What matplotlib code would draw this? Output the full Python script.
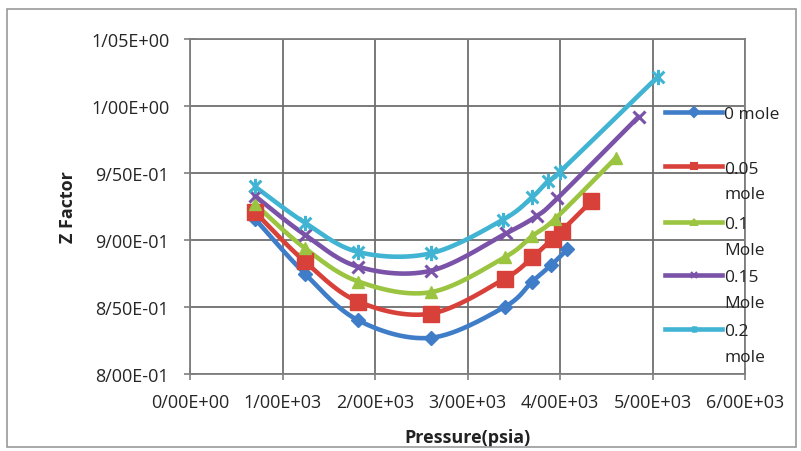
import numpy as np
import matplotlib
matplotlib.use("Agg")
import matplotlib.pyplot as plt
from matplotlib.path import Path
from matplotlib.lines import Line2D
from matplotlib.patches import Rectangle

# ---- data ----
series_names = ["0 mole", "0.05\nmole", "0.1\nMole", "0.15\nMole", "0.2\nmole"]
p0 = [700, 1240, 1820, 2600, 3400, 3700, 3900, 4080]
z0 = [0.916, 0.875, 0.840, 0.827, 0.850, 0.869, 0.881, 0.893]
p1 = [700, 1240, 1820, 2600, 3400, 3700, 3920, 4020, 4340]
z1 = [0.921, 0.884, 0.854, 0.845, 0.871, 0.887, 0.901, 0.907, 0.929]
p2 = [700, 1240, 1820, 2600, 3400, 3700, 3950, 4600]
z2 = [0.927, 0.894, 0.869, 0.861, 0.887, 0.903, 0.916, 0.961]
p3 = [700, 1240, 1820, 2600, 3420, 3750, 3970, 4850]
z3 = [0.933, 0.904, 0.880, 0.877, 0.905, 0.918, 0.931, 0.992]
p4 = [700, 1240, 1820, 2600, 3380, 3700, 3870, 4000, 5060]
z4 = [0.940, 0.913, 0.891, 0.890, 0.915, 0.932, 0.944, 0.951, 1.022]
pressures = [p0, p1, p2, p3, p4]
zfactors = [z0, z1, z2, z3, z4]
x_ticks = [0, 1000, 2000, 3000, 4000, 5000, 6000]
y_ticks = [0.80, 0.85, 0.90, 0.95, 1.00, 1.05]

colors = ["#3F7DC8", "#D8403A", "#9BC440", "#7A52A8", "#40B4D2"]

# star marker (x plus vertical bar)
star = Path([(-1, -1), (1, 1), (-1, 1), (1, -1), (0, -1.3), (0, 1.3)],
            [Path.MOVETO, Path.LINETO, Path.MOVETO, Path.LINETO, Path.MOVETO, Path.LINETO])
markers = ["D", "s", "^", "x", star]
msizes = [7, 11, 9, 9, 11]

plt.rcParams['font.family'] = ['Open Sans', 'DejaVu Sans']

fig = plt.figure(figsize=(8.01, 4.52), dpi=100)
fig.patches.append(Rectangle((7 / 801, 4 / 452), 789 / 801, 438 / 452, transform=fig.transFigure,
                             fill=False, edgecolor="#9a9a9a", linewidth=1.2))
ax = fig.add_axes([190 / 801, 1 - 375 / 452, 555 / 801, 335 / 452])
ax.set_xlim(0, 6000)
ax.set_ylim(0.80, 1.05)


def fmt(v):
    return f"{v:.2E}".replace(".", "/")


ax.set_xticks(x_ticks)
ax.set_yticks(y_ticks)
ax.set_xticklabels([fmt(v) for v in x_ticks], fontsize=13, color="#262626")
ax.set_yticklabels([fmt(v) for v in y_ticks], fontsize=13, color="#262626")
ax.tick_params(axis="both", direction="inout", length=8, width=1.2, color="#7f7f7f")
ax.tick_params(axis="x", pad=10)
ax.tick_params(axis="y", pad=11)
ax.grid(True, color="#6e6e6e", linewidth=1.3)
ax.set_axisbelow(True)
for s in ax.spines.values():
    s.set_color("#7f7f7f")
    s.set_linewidth(1.3)

fig.canvas.draw()


def smooth(xs, ys, n=30):
    pts = ax.transData.transform(np.column_stack([xs, ys]))
    P = np.vstack([pts[0], pts, pts[-1]])
    out = []
    for i in range(1, len(P) - 2):
        a, b = P[i], P[i + 1]
        c1 = a + (P[i + 1] - P[i - 1]) / 6
        c2 = b - (P[i + 2] - P[i]) / 6
        t = np.linspace(0, 1, n)[:, None]
        seg = (1 - t) ** 3 * a + 3 * (1 - t) ** 2 * t * c1 + 3 * (1 - t) * t ** 2 * c2 + t ** 3 * b
        out.append(seg if i == 1 else seg[1:])
    out = np.vstack(out)
    d = ax.transData.inverted().transform(out)
    return d[:, 0], d[:, 1]


for k in range(5):
    sx, sy = smooth(pressures[k], zfactors[k])
    ax.plot(sx, sy, color=colors[k], linewidth=3.3, solid_capstyle="round", zorder=3)
    ax.plot(pressures[k], zfactors[k], linestyle="none", marker=markers[k], markersize=msizes[k],
            color=colors[k], markeredgecolor=colors[k], markeredgewidth=2.2 if k >= 3 else 1,
            zorder=4)

ax.set_ylabel("Z Factor", fontsize=13, fontweight="bold", labelpad=10, color="#222222")
ax.set_xlabel("Pressure(psia)", fontsize=13, fontweight="bold", labelpad=12, color="#222222")

# legend drawn manually (Excel style, wrapped labels)
leg_y = [113, 167, 223, 276, 330]
for k in range(5):
    yf = 1 - leg_y[k] / 452
    fig.add_artist(Line2D([665 / 801, 722 / 801], [yf, yf], transform=fig.transFigure,
                          color=colors[k], linewidth=3.3, zorder=5))
    fig.add_artist(Line2D([693.5 / 801], [yf], transform=fig.transFigure, marker=markers[k],
                          markersize=5, color=colors[k], markeredgecolor=colors[k],
                          markeredgewidth=1.5, zorder=5))
    for j, line in enumerate(series_names[k].split("\n")):
        fig.text(724 / 801, 1 - (leg_y[k] + 6.5 + 26 * j) / 452, line, ha="left", va="baseline",
                 fontsize=12.5, color="#222222", zorder=6)

fig.savefig("out.png", dpi=100)
